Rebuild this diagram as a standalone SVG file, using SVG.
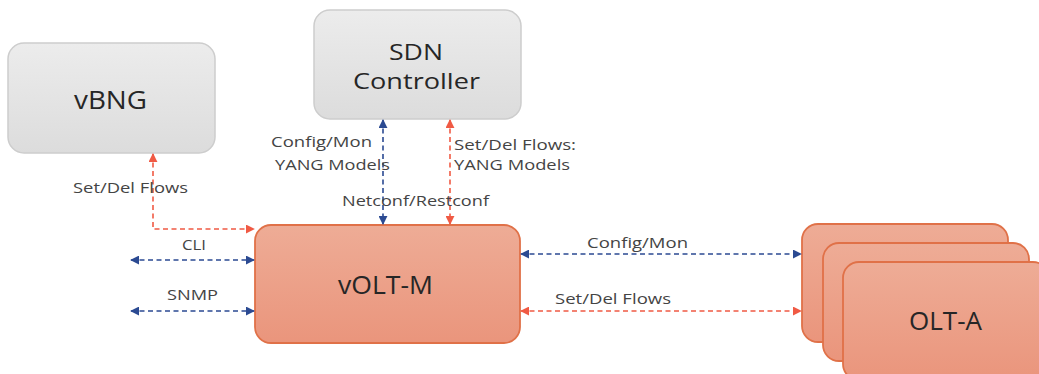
<svg xmlns="http://www.w3.org/2000/svg" width="1039" height="374" viewBox="0 0 1039 374">
  <defs>
    <linearGradient id="greyFill" x1="0" y1="0" x2="0" y2="1">
      <stop offset="0" stop-color="#ececec"/>
      <stop offset="1" stop-color="#dcdcdc"/>
    </linearGradient>
    <linearGradient id="orangeFill" x1="0" y1="0" x2="0" y2="1">
      <stop offset="0" stop-color="#eeac96"/>
      <stop offset="1" stop-color="#ea957c"/>
    </linearGradient>
    <marker id="arrBlue" viewBox="0 0 10 10" refX="9" refY="5" markerWidth="9" markerHeight="9" markerUnits="userSpaceOnUse" orient="auto-start-reverse">
      <path d="M0,0 L10,5 L0,10 z" fill="#2b4a92"/>
    </marker>
    <marker id="arrRed" viewBox="0 0 10 10" refX="9" refY="5" markerWidth="9" markerHeight="9" markerUnits="userSpaceOnUse" orient="auto-start-reverse">
      <path d="M0,0 L10,5 L0,10 z" fill="#f05a44"/>
    </marker>
  </defs>
  <style>
    .grey { fill: url(#greyFill); stroke: #cdcdcd; stroke-width: 1.5; }
    .orange { fill: url(#orangeFill); stroke: #e07148; stroke-width: 1.8; }
    .title { font-family: "Open Sans", "Liberation Sans", sans-serif; font-size: 25px; fill: #262626; }
    .title2 { font-family: "Open Sans", "Liberation Sans", sans-serif; font-size: 22px; fill: #262626; }
    .lbl { font-family: "Open Sans", "Liberation Sans", sans-serif; font-size: 15px; fill: #444444; }
    .lbl2 { font-family: "Open Sans", "Liberation Sans", sans-serif; font-size: 14px; fill: #444444; }
    .blue { fill: none; stroke: #2b4a92; stroke-width: 1.6; stroke-dasharray: 5 3.5; marker-start: url(#arrBlue); marker-end: url(#arrBlue); }
    .red { fill: none; stroke: #f05a44; stroke-width: 1.6; stroke-dasharray: 5 3.5; marker-start: url(#arrRed); marker-end: url(#arrRed); }
  </style>
  <rect width="1039" height="374" fill="#ffffff"/>

  <g id="vbng">
    <rect class="grey" x="8" y="43" width="207" height="110" rx="16"/>
    <text class="title" x="74" y="109" textLength="73" lengthAdjust="spacingAndGlyphs">vBNG</text>
  </g>

  <g id="sdn-controller">
    <rect class="grey" x="314" y="10" width="207" height="109" rx="16"/>
    <text class="title2" x="389" y="60" textLength="54" lengthAdjust="spacingAndGlyphs">SDN</text>
    <text class="title2" x="353" y="89" textLength="127" lengthAdjust="spacingAndGlyphs">Controller</text>
  </g>

  <g id="volt-m">
    <rect class="orange" x="255" y="225" width="265" height="118" rx="16"/>
    <text class="title" x="338" y="294" textLength="95" lengthAdjust="spacingAndGlyphs">vOLT-M</text>
  </g>

  <g id="olt-a">
    <rect class="orange" x="802" y="224" width="206" height="118" rx="16"/>
    <rect class="orange" x="823" y="243" width="206" height="118" rx="16"/>
    <rect class="orange" x="843" y="262" width="206" height="118" rx="16"/>
    <text class="title" x="909" y="330" textLength="73" lengthAdjust="spacingAndGlyphs">OLT-A</text>
  </g>

  <g id="connectors">
    <path class="red" d="M153,154 V229 H254"/>
    <line class="blue" x1="383" y1="120" x2="383" y2="224"/>
    <line class="red" x1="450" y1="120" x2="450" y2="224"/>
    <line class="blue" x1="131" y1="260" x2="254" y2="260"/>
    <line class="blue" x1="131" y1="311" x2="254" y2="311"/>
    <line class="blue" x1="521" y1="254" x2="801" y2="254"/>
    <line class="red" x1="521" y1="311" x2="801" y2="311"/>
  </g>

  <g id="labels">
    <text class="lbl" x="73" y="193" textLength="115" lengthAdjust="spacingAndGlyphs">Set/Del Flows</text>
    <text class="lbl2" x="271" y="147" textLength="101" lengthAdjust="spacingAndGlyphs">Config/Mon</text>
    <text class="lbl2" x="275" y="170" textLength="115" lengthAdjust="spacingAndGlyphs">YANG Models</text>
    <text class="lbl2" x="454" y="150" textLength="122" lengthAdjust="spacingAndGlyphs">Set/Del Flows:</text>
    <text class="lbl2" x="454" y="170" textLength="116" lengthAdjust="spacingAndGlyphs">YANG Models</text>
    <text class="lbl" x="342" y="206" textLength="147" lengthAdjust="spacingAndGlyphs">Netconf/Restconf</text>
    <text class="lbl" x="182" y="250" textLength="24" lengthAdjust="spacingAndGlyphs">CLI</text>
    <text class="lbl" x="167" y="300" textLength="51" lengthAdjust="spacingAndGlyphs">SNMP</text>
    <text class="lbl" x="587" y="248" textLength="101" lengthAdjust="spacingAndGlyphs">Config/Mon</text>
    <text class="lbl" x="555" y="304" textLength="116" lengthAdjust="spacingAndGlyphs">Set/Del Flows</text>
  </g>
</svg>
